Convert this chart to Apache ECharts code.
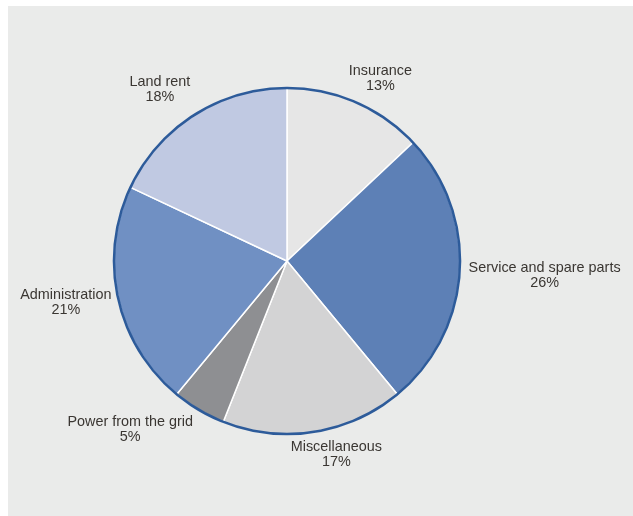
<!DOCTYPE html>
<html>
<head>
<meta charset="utf-8">
<script src="https://cdn.jsdelivr.net/npm/echarts@6/dist/echarts.min.js"></script>
<style>
  html, body { margin: 0; padding: 0; background: #ffffff; }
  #chart { width: 633px; height: 516px; }
</style>
</head>
<body>
<div id="chart"></div>
<script>
// Annual operating cost shares, clockwise from the top
const categories = ['Insurance', 'Service and spare parts', 'Miscellaneous', 'Power from the grid', 'Administration', 'Land rent'];
const shares = [13, 26, 17, 5, 21, 18];

// Slice fills, same order as the categories
const sliceColors = ['#e6e6e6', '#5d80b6', '#d3d3d4', '#8e8f92', '#7090c3', '#c0c9e2'];
// Label nudges from the default outside anchor, same order
const labelNudge = [[14, 1], [58, 2], [18, -4], [-55, -4], [-26, -2], [-20, -3]];

const textColor = '#3a3632';
const fontFamily = '"Liberation Sans", Arial, sans-serif';

const chart = echarts.init(document.getElementById('chart'), null, { renderer: 'canvas' });

chart.setOption({
  backgroundColor: '#ffffff',
  animation: false,
  graphic: [{
    type: 'rect',
    left: 8, top: 6, z: -10,
    shape: { width: 625, height: 510 },
    style: { fill: '#eaebea' },
    silent: true
  }],
  series: [
    {
      type: 'pie',
      center: ['45.34%', '50.58%'],
      radius: [0, 173],
      startAngle: 90,
      clockwise: true,
      avoidLabelOverlap: false,
      silent: true,
      itemStyle: { borderColor: '#ffffff', borderWidth: 1.5 },
      label: {
        show: true,
        position: 'outside',
        distanceToLabelLine: 0,
        formatter: '{t|{b}}\n{t|{c}%}',
        rich: {
          t: { align: 'center', fontSize: 14.4, lineHeight: 15, color: textColor, fontFamily: fontFamily }
        }
      },
      labelLine: { show: false, length: 27, length2: 0 },
      labelLayout: function (p) {
        const n = labelNudge[p.dataIndex];
        return { align: 'center', verticalAlign: 'middle', dx: n[0], dy: n[1] };
      },
      emphasis: { disabled: true },
      data: categories.map((name, i) => ({
        name: name,
        value: shares[i],
        itemStyle: { color: sliceColors[i] }
      }))
    },
    {
      // thin blue rim round the pie
      type: 'pie',
      center: ['45.34%', '50.58%'],
      radius: [171.8, 174.3],
      silent: true,
      label: { show: false },
      labelLine: { show: false },
      emphasis: { disabled: true },
      itemStyle: { color: '#2d5b9a', borderWidth: 0 },
      data: [{ value: 1, name: 'rim' }]
    }
  ]
});
</script>
</body>
</html>
